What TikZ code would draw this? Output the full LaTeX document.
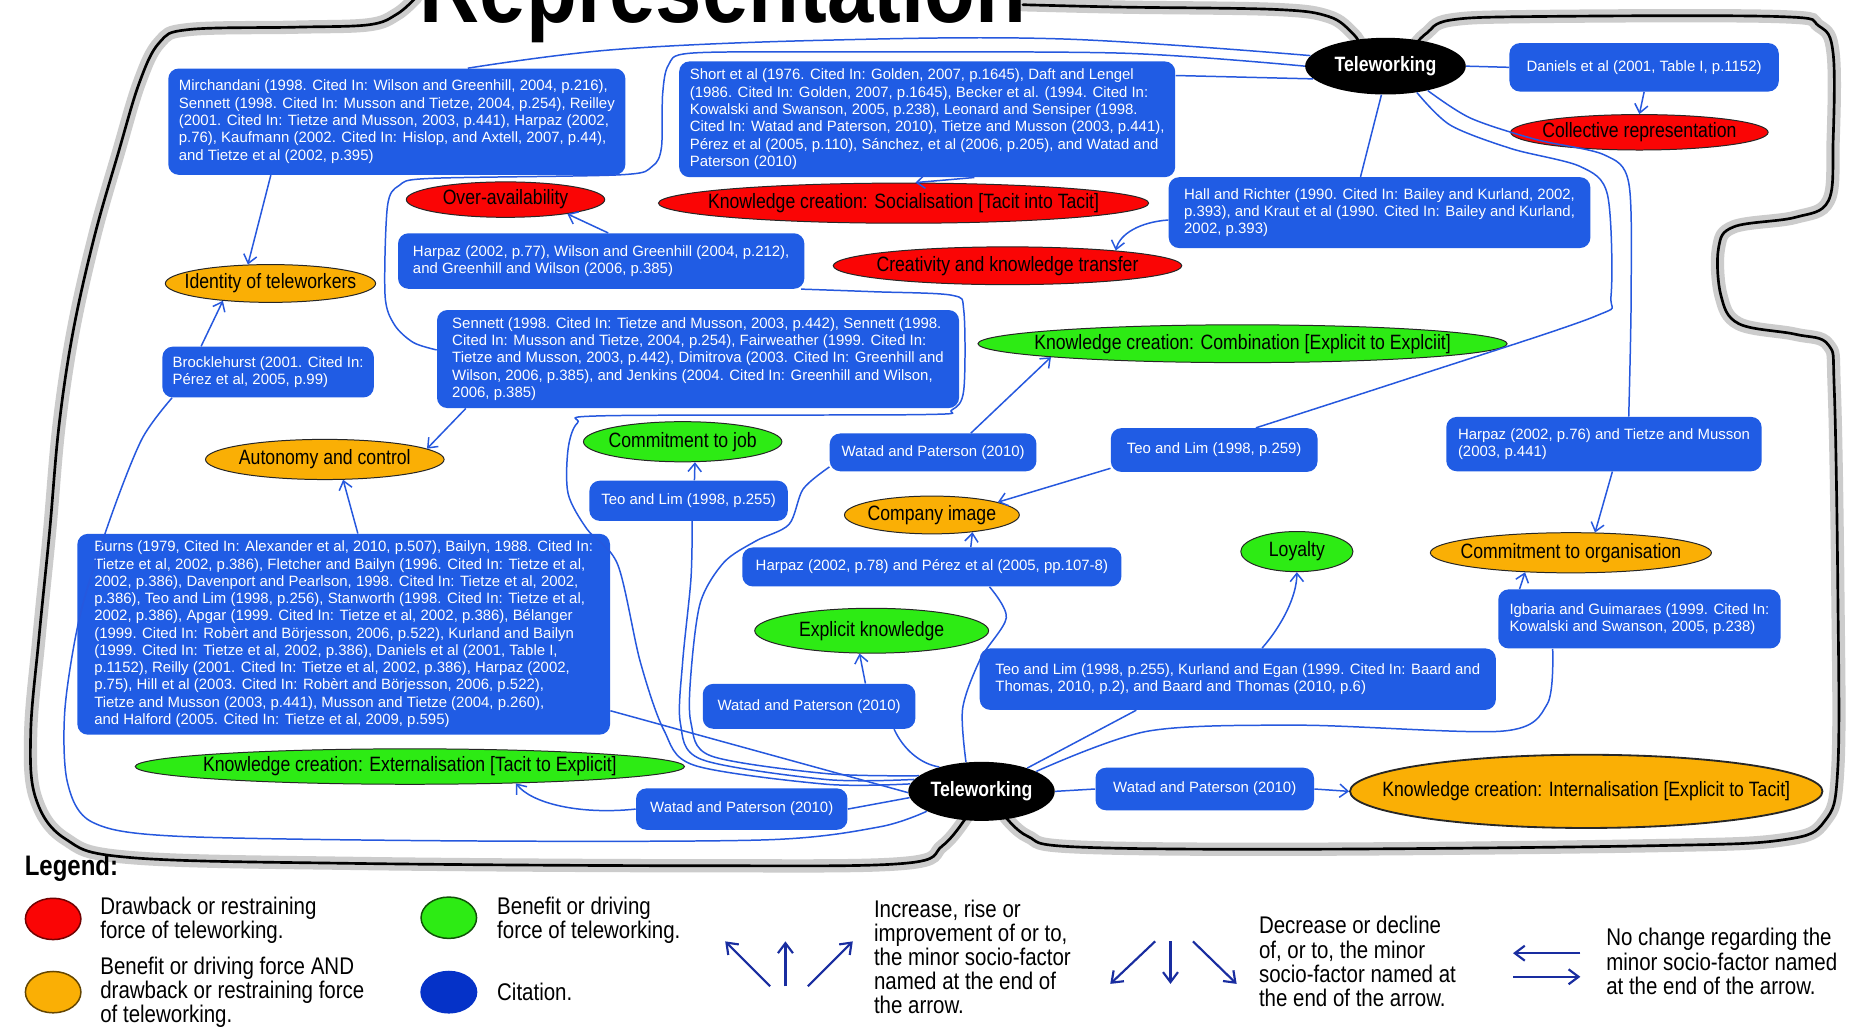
\documentclass[tikz,border=0pt]{standalone}
\usepackage{fontspec}
\setmainfont{Liberation Sans}
\newfontfamily\narrowfont[FakeStretch=0.85]{Liberation Sans}
\usetikzlibrary{shapes.geometric,arrows.meta}

\definecolor{citeblue}{RGB}{32,92,228}
\definecolor{linkblue}{RGB}{38,88,222}
\definecolor{badred}{RGB}{250,5,5}
\definecolor{goodgreen}{RGB}{45,235,20}
\definecolor{bothorange}{RGB}{250,175,5}
\definecolor{dotblue}{RGB}{5,50,200}
\definecolor{legblue}{RGB}{25,45,160}

\newcommand\citesize{\fontsize{9}{10.4}\selectfont}
\newcommand\ovalsize{\narrowfont\fontsize{12.5}{14}\selectfont}
\newcommand\legsize{\narrowfont\fontsize{14.5}{14.5}\selectfont}
\newcommand\legheadsize{\narrowfont\bfseries\fontsize{17}{17}\selectfont}
\newcommand\titlesize{\narrowfont\bfseries\fontsize{59}{59}\selectfont}

\begin{document}
\begin{tikzpicture}[x=0.025cm, y=-0.025cm,
    wh/.style 2 args={minimum width=#1*0.025cm, minimum height=#2*0.025cm},
    flat/.style={execute at begin node={\hbox to 0pt\bgroup\hss}, execute at end node={\hss\egroup}},
    oval/.style={ellipse, draw=black!85, line width=0.6pt, inner sep=0pt, font=\ovalsize, flat},
    bad/.style={oval, fill=badred},
    good/.style={oval, fill=goodgreen},
    both/.style={oval, fill=bothorange},
    tele/.style={ellipse, fill=black, text=white, inner sep=0pt, font=\ovalsize\bfseries, flat},
    cite/.style={rectangle, rounded corners=0.22cm, fill=citeblue, text=white, inner sep=0pt, align=left, font=\citesize},
    link/.style={draw=linkblue, line width=0.9pt},
    arr/.style={link, -{Straight Barb[length=5pt,width=8pt]}},
    rim/.style={draw=black, line width=1.6pt, line cap=round, preaction={draw=black!20, line width=8pt, line cap=round}},
    dot/.style={ellipse, inner sep=0pt, wh={47}{35}, line width=0.9pt},
    legarr/.style={draw=legblue, line width=1.3pt, -{Straight Barb[length=6pt,width=9pt]}},
    legtxt/.style={anchor=west, align=left, font=\legsize}]

    % page
    \fill[white] (0,0) rectangle (1568,870);
    \useasboundingbox (0,0) rectangle (1568,870);
    \clip (0,0) rectangle (1568,870);

    % outer outline
    \draw[rim] plot[smooth, tension=0.6] coordinates {(352,-2) (336,12) (312,21) (250,23) (160,25) (135,36) (118,70) (100,130) (80,200) (62,280) (50,360) (42,450) (33,540) (26,620) (30,675) (55,710) (110,726) (300,731) (600,733) (765,731) (798,716) (818,692)};
    \draw[rim] plot[smooth, tension=0.6] coordinates {(850,690) (870,708) (910,717) (1100,719) (1400,716) (1510,711) (1545,695) (1556,650) (1556,500) (1553,330) (1548,292) (1520,283) (1472,274) (1457,250) (1455,210) (1468,192) (1520,184) (1548,170) (1552,120) (1552,45) (1540,22) (1505,14) (1300,14) (1228,17) (1208,28) (1198,38)};
    \draw[rim] plot[smooth, tension=0.6] coordinates {(866,4) (950,6) (1080,8) (1125,14) (1145,28) (1152,38)};

    % title
    \node[font=\titlesize, anchor=base] (title) at (612,19) {Representation};

    % teleworking
    \node[tele, wh={136}{48}] (teleTop) at (1173,56) {Teleworking};
    \node[tele, wh={124}{50}] (teleBot) at (831,670) {Teleworking};

    % drawbacks
    \node[bad, wh={218}{30}] (collective) at (1388,112) {Collective representation};
    \node[bad, wh={168}{30}] (overavail) at (428,169) {Over-availability};
    \node[bad, wh={415}{34}] (social) at (765,172) {Knowledge creation: Socialisation [Tacit into Tacit]};
    \node[bad, wh={295}{32}] (creativity) at (853,225) {Creativity and knowledge transfer};

    % benefits
    \node[good, wh={448}{32}] (combination) at (1052,291) {Knowledge creation: Combination [Explicit to Explciit]};
    \node[good, wh={168}{34}] (commitJob) at (578,374) {Commitment to job};
    \node[good, wh={95}{34}] (loyalty) at (1098,467) {Loyalty};
    \node[good, wh={198}{38}] (explicitK) at (738,534) {Explicit knowledge};
    \node[good, wh={465}{30}] (external) at (347,649) {Knowledge creation: Externalisation [Tacit to Explicit]};

    % both
    \node[both, wh={178}{32}] (identity) at (229,240) {Identity of teleworkers};
    \node[both, wh={202}{34}] (autonomy) at (275,389) {Autonomy and control};
    \node[both, wh={148}{32}] (compImage) at (789,436) {Company image};
    \node[both, wh={238}{34}] (commitOrg) at (1330,468) {Commitment to organisation};
    \node[both, wh={400}{62}, line width=1.1pt] (internal) at (1343,670) {Knowledge creation: Internalisation [Explicit to Tacit]};

    % citations
    \node[cite, wh={387}{90}] (citeMirch) at (336,103) {Mirchandani (1998. Cited In: Wilson and Greenhill, 2004, p.216),\\ Sennett (1998. Cited In: Musson and Tietze, 2004, p.254), Reilley\\ (2001. Cited In: Tietze and Musson, 2003, p.441), Harpaz (2002,\\ p.76), Kaufmann (2002. Cited In: Hislop, and Axtell, 2007, p.44),\\ and Tietze et al (2002, p.395)};
    \node[cite, wh={420}{98}] (citeShort) at (785,101) {Short et al (1976. Cited In: Golden, 2007, p.1645), Daft and Lengel\\ (1986. Cited In: Golden, 2007, p.1645), Becker et al. (1994. Cited In:\\ Kowalski and Swanson, 2005, p.238), Leonard and Sensiper (1998.\\ Cited In: Watad and Paterson, 2010), Tietze and Musson (2003, p.441),\\ Pérez et al (2005, p.110), Sánchez, et al (2006, p.205), and Watad and\\ Paterson (2010)};
    \node[cite, wh={228}{41}] (citeDaniels) at (1392,57) {Daniels et al (2001, Table I, p.1152)};
    \node[cite, wh={357}{60}] (citeHall) at (1168,180) {Hall and Richter (1990. Cited In: Bailey and Kurland, 2002,\\ p.393), and Kraut et al (1990. Cited In: Bailey and Kurland,\\ 2002, p.393)};
    \node[cite, wh={344}{47}] (citeHarpazA) at (509,221) {Harpaz (2002, p.77), Wilson and Greenhill (2004, p.212),\\ and Greenhill and Wilson (2006, p.385)};
    \node[cite, wh={442}{83}] (citeSennett) at (591,304) {Sennett (1998. Cited In: Tietze and Musson, 2003, p.442), Sennett (1998.\\ Cited In: Musson and Tietze, 2004, p.254), Fairweather (1999. Cited In:\\ Tietze and Musson, 2003, p.442), Dimitrova (2003. Cited In: Greenhill and\\ Wilson, 2006, p.385), and Jenkins (2004. Cited In: Greenhill and Wilson,\\ 2006, p.385)};
    \node[cite, wh={179}{43}] (citeBrock) at (227,315) {Brocklehurst (2001. Cited In:\\ Pérez et al, 2005, p.99)};
    \node[cite, wh={175}{32}] (citeWatadA) at (790,383) {Watad and Paterson (2010)};
    \node[cite, wh={175}{37}] (citeTeoA) at (1028,381) {Teo and Lim (1998, p.259)};
    \node[cite, wh={267}{46}] (citeHarpazB) at (1358,376) {Harpaz (2002, p.76) and Tietze and Musson\\ (2003, p.441)};
    \node[cite, wh={168}{34}] (citeTeoB) at (583,424) {Teo and Lim (1998, p.255)};
    \node[cite, wh={451}{170}] (citeBurns) at (291,537) {Burns (1979, Cited In: Alexander et al, 2010, p.507), Bailyn, 1988. Cited In:\\ Tietze et al, 2002, p.386), Fletcher and Bailyn (1996. Cited In: Tietze et al,\\ 2002, p.386), Davenport and Pearlson, 1998. Cited In: Tietze et al, 2002,\\ p.386), Teo and Lim (1998, p.256), Stanworth (1998. Cited In: Tietze et al,\\ 2002, p.386), Apgar (1999. Cited In: Tietze et al, 2002, p.386), Bélanger\\ (1999. Cited In: Robèrt and Börjesson, 2006, p.522), Kurland and Bailyn\\ (1999. Cited In: Tietze et al, 2002, p.386), Daniels et al (2001, Table I,\\ p.1152), Reilly (2001. Cited In: Tietze et al, 2002, p.386), Harpaz (2002,\\ p.75), Hill et al (2003. Cited In: Robèrt and Börjesson, 2006, p.522),\\ Tietze and Musson (2003, p.441), Musson and Tietze (2004, p.260),\\ and Halford (2005. Cited In: Tietze et al, 2009, p.595)};
    \node[cite, wh={321}{33}] (citeHarpazC) at (789,480) {Harpaz (2002, p.78) and Pérez et al (2005, pp.107-8)};
    \node[cite, wh={239}{50}] (citeIgbaria) at (1388,524) {Igbaria and Guimaraes (1999. Cited In:\\ Kowalski and Swanson, 2005, p.238)};
    \node[cite, wh={437}{52}] (citeTeoC) at (1048,575) {Teo and Lim (1998, p.255), Kurland and Egan (1999. Cited In: Baard and\\ Thomas, 2010, p.2), and Baard and Thomas (2010, p.6)};
    \node[cite, wh={180}{38}] (citeWatadB) at (685,598) {Watad and Paterson (2010)};
    \node[cite, wh={179}{35}] (citeWatadC) at (628,685) {Watad and Paterson (2010)};
    \node[cite, wh={185}{36}] (citeWatadD) at (1020,668) {Watad and Paterson (2010)};

    % lines from the upper teleworking node
    \draw[link] plot[smooth, tension=0.6] coordinates {(teleTop.172) (900,33) (700,34) (520,42) (citeMirch.37)};
    \draw[link] (teleTop.190) -- (citeShort.10);
    \draw[link] plot[smooth, tension=0.5] coordinates {(teleTop.180) (950,45) (700,44) (585,45) (566,55) (561,80) (560,125) (552,141) (525,148) (365,151) (338,157) (328,175) (326,250) (334,275) (350,290) (citeSennett.178)};
    \draw[link] (teleTop.262) -- (citeHall.118);
    \draw[link] (teleTop.east) -- (citeDaniels.west);
    \draw[link] plot[smooth, tension=0.5] coordinates {(teleTop.-40) (1228,106) (1280,126) (1338,141) (1361,165) (1364,250) (1350,268) (1200,318) (citeTeoA.28)};
    \draw[link] plot[smooth, tension=0.5] coordinates {(teleTop.-30) (1245,100) (1300,118) (1358,131) (1379,155) (1381,250) (citeHarpazB.48)};

    % lines from the lower teleworking node
    \draw[link] (teleBot.east) -- (citeWatadD.west);
    \draw[link] (teleBot.185) -- (citeWatadC.east);
    \draw[link] (citeWatadB.-15) .. controls (765,635) and (780,647) .. (teleBot.150);
    \draw[link] (teleBot.27) -- (citeTeoC.197);
    \draw[link] plot[smooth, tension=0.5] coordinates {(teleBot.20) (972,619) (1102,614) (1272,619) (1310,596) (citeIgbaria.199)};
    \draw[link] plot[smooth, tension=0.5] coordinates {(teleBot.118) (815,600) (830,558) (852,523) (citeHarpazC.-19)};
    \draw[link] plot[smooth, tension=0.5] coordinates {(citeWatadA.188) (680,414) (668,444) (640,458) (613,476) (593,510) (585,570) (585,612) (602,640) (700,655) (teleBot.166)};
    \draw[link] plot[smooth, tension=0.5] coordinates {(citeTeoB.-80) (585,490) (578,560) (576,612) (594,643) (700,660) (teleBot.170)};
    \draw[link] plot[smooth, tension=0.5] coordinates {(citeHarpazA.-8) (740,247) (806,250) (816,263) (816,330) (806,347) (780,351) (512,352) (489,358) (481,380) (481,418) (497,448) (523,478) (542,560) (562,618) (588,648) (700,664) (teleBot.174)};
    \draw[link] (citeBurns.-16) -- (teleBot.181);
    \draw[link] plot[smooth, tension=0.5] coordinates {(citeBrock.195) (120,372) (93,440) (68,520) (55,600) (57,662) (78,696) (150,708) (400,712) (650,711) (745,700) (teleBot.200)};

    % arrows to the socio-factors
    \draw[arr] (citeMirch.203) -- (identity.140);
    \draw[arr] (citeShort.-51) -- (social.60);
    \draw[arr] (citeDaniels.south) -- (collective.north);
    \draw[arr] (citeHall.182) .. controls (965,188) and (948,198) .. (creativity.8);
    \draw[arr] (citeHarpazA.76) -- (overavail.-13);
    \draw[arr] (citeSennett.192) -- (autonomy.6);
    \draw[arr] (citeBrock.159) -- (identity.200);
    \draw[arr] (citeWatadA.27) -- (combination.184);
    \draw[arr] (citeTeoA.190) -- (compImage.11);
    \draw[arr] (citeHarpazB.-73) -- (commitOrg.40);
    \draw[arr] (citeTeoB.74) -- (commitJob.-59);
    \draw[arr] (citeBurns.82) -- (autonomy.-48);
    \draw[arr] (citeHarpazC.27) -- (compImage.-23);
    \draw[arr] (citeIgbaria.166) -- (commitOrg.203);
    \draw[arr] (citeTeoC.52) .. controls (1085,530) and (1098,505) .. (loyalty.south);
    \draw[arr] (citeWatadB.22) -- (explicitK.242);
    \draw[arr] (citeWatadC.west) .. controls (490,690) and (450,680) .. (external.-9);
    \draw[arr] (citeWatadD.east) -- (internal.west);

    % legend
    \node[anchor=west, font=\legheadsize] (legHead) at (16,735) {Legend:};
    \node[dot, fill=badred, draw=badred!45!black] (dotBad) at (45,778) {};
    \node[legtxt] (legBad) at (80,779) {Drawback or restraining\\force of teleworking.};
    \node[dot, fill=bothorange, draw=bothorange!40!black] (dotBoth) at (45,840) {};
    \node[legtxt] (legBoth) at (80,840) {Benefit or driving force AND\\drawback or restraining force\\of teleworking.};
    \node[dot, fill=goodgreen, draw=goodgreen!35!black] (dotGood) at (380,777) {};
    \node[legtxt] (legGood) at (416,779) {Benefit or driving\\force of teleworking.};
    \node[dot, fill=dotblue, draw=dotblue] (dotCite) at (380,840) {};
    \node[legtxt] (legCite) at (416,840) {Citation.};

    % legend arrows
    \foreach \a/\b in {652/614, 665/665, 684/722}
        \draw[legarr] (\a,835) -- (\b,797);
    \node[legtxt] (legUp) at (735,810) {Increase, rise or\\improvement of or to,\\the minor socio-factor\\named at the end of\\the arrow.};
    \foreach \a/\b in {978/940, 991/991, 1010/1047}
        \draw[legarr] (\a,797) -- (\b,833);
    \node[legtxt] (legDown) at (1061,814) {Decrease or decline\\of, or to, the minor\\socio-factor named at\\the end of the arrow.};
    \draw[legarr] (1338,807) -- (1281,807);
    \draw[legarr] (1281,827) -- (1338,827);
    \node[legtxt] (legSame) at (1355,814) {No change regarding the\\minor socio-factor named\\at the end of the arrow.};

\end{tikzpicture}
\end{document}
